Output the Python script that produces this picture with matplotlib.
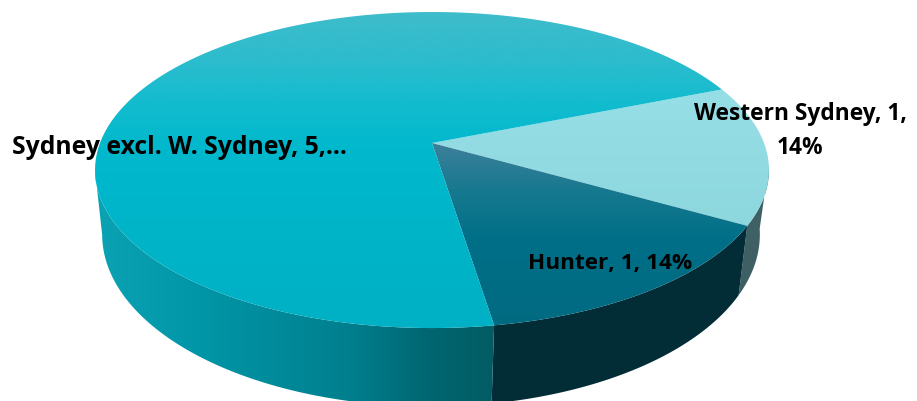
import numpy as np
import matplotlib
matplotlib.use("Agg")
import matplotlib.pyplot as plt
from matplotlib.colors import LinearSegmentedColormap
from matplotlib.patches import PathPatch
from matplotlib.path import Path

# slices, clockwise from the start angle
names = ["Western Sydney", "Hunter", "Sydney excl. W. Sydney"]
values = [1, 1, 5]
start_angle = 21.8

W, H = 917, 401
fig = plt.figure(figsize=(W / 100, H / 100), dpi=100)
ax = fig.add_axes([0, 0, 1, 1])
ax.set_xlim(0, W)
ax.set_ylim(H, 0)
ax.axis("off")

# perspective of the disc, in pixels
K = 0.171
TOP = dict(cx=432, cy=143, b=332, a=153.4)
BOT = dict(cx=431, cy=205, b=324, a=167)


def project(deg, d):
    t = np.radians(deg)
    u, v = np.cos(t), np.sin(t)
    w = 1 + K * v
    return d["cx"] + d["b"] * u / w, d["cy"] - d["a"] * v / w


def gradient(path, stops, vertical=True):
    # stops are (pixel, colour); filled through a clip path
    lo, hi = stops[0][0], stops[-1][0]
    cmap = LinearSegmentedColormap.from_list(
        "g", [((p - lo) / (hi - lo), c) for p, c in stops], N=512)
    ramp = np.linspace(0, 1, 512)
    if vertical:
        im = ax.imshow(ramp[:, None], cmap=cmap, aspect="auto", zorder=2,
                       extent=(0, W, hi, lo), interpolation="bilinear")
    else:
        im = ax.imshow(ramp[None, :], cmap=cmap, aspect="auto", zorder=2,
                       extent=(lo, hi, H, 0), interpolation="bilinear")
    patch = PathPatch(path, facecolor="none", edgecolor="none", transform=ax.transData)
    ax.add_patch(patch)
    im.set_clip_path(patch)
    ax.set_xlim(0, W)
    ax.set_ylim(H, 0)


def wedge_path(a0, a1):
    xs, ys = project(np.linspace(a0, a1, 200), TOP)
    pts = [(TOP["cx"], TOP["cy"])] + list(zip(xs, ys))
    return Path(pts + [pts[0]], closed=True)


def side_path(a0, a1):
    ts = np.linspace(a0, a1, 200)
    x0, y0 = project(ts, TOP)
    x1, y1 = project(ts[::-1], BOT)
    pts = list(zip(x0, y0)) + list(zip(x1, y1))
    return Path(pts + [pts[0]], closed=True)


sweeps = 360 * np.array(values) / sum(values)
edges = start_angle - np.concatenate([[0], np.cumsum(sweeps)])

face_stops = [
    [(70, "#98e0e8"), (240, "#8cd6dd")],
    [(140, "#40809c"), (190, "#17798f"), (240, "#006f88"), (335, "#006a80")],
    [(5, "#42bccb"), (60, "#2cbccd"), (100, "#14bccf"), (150, "#00b8cc"), (335, "#00b0c4")],
]

# rim, only the part that faces the viewer
gradient(side_path(edges[1], -8), [(0, "#44666a"), (H, "#3c5c60")])
gradient(side_path(edges[2], edges[1]), [(0, "#022c36"), (H, "#032e38")])
gradient(side_path(edges[2], -170),
         [(90, "#0ca3b4"), (200, "#0096a7"), (350, "#007f8e"), (430, "#006670"), (520, "#04585f")],
         vertical=False)

for i in range(3):
    gradient(wedge_path(edges[i], edges[i + 1]), face_stops[i])

font = dict(family="Open Sans", fontweight="bold", color="black", zorder=5)
ax.text(179, 148, "Sydney excl. W. Sydney, 5,…", ha="center", va="center", fontsize=17.8, **font)
ax.text(800, 131, "Western Sydney, 1,\n14%", ha="center", va="center", fontsize=16.4,
        linespacing=1.5, **font)
ax.text(610, 264, "Hunter, 1, 14%", ha="center", va="center", fontsize=16.2, **font)

fig.savefig("out.png", dpi=100)
